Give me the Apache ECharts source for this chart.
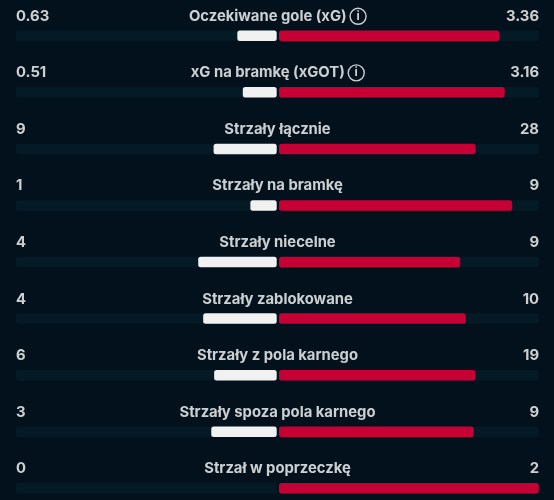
<!DOCTYPE html>
<html><head><meta charset="utf-8">
<style>html,body{margin:0;padding:0;background:#03111c}#c{width:554px;height:500px}</style>
<script src="https://cdn.jsdelivr.net/npm/echarts@6/dist/echarts.min.js"></script>
</head><body><div id="c"></div>
<script>
const categories = ["Oczekiwane gole (xG)","xG na bramkę (xGOT)","Strzały łącznie","Strzały na bramkę","Strzały niecelne","Strzały zablokowane","Strzały z pola karnego","Strzały spoza pola karnego","Strzał w poprzeczkę"];
const homeLabels = ["0.63","0.51","9","1","4","4","6","3","0"];
const awayLabels = ["3.36","3.16","28","9","9","10","19","9","2"];
const withInfo = ["Oczekiwane gole (xG)","xG na bramkę (xGOT)"];
const homeShare = [0.151,0.130,0.242,0.101,0.301,0.282,0.240,0.251,0];
const awayShare = [0.848,0.869,0.757,0.898,0.698,0.719,0.757,0.750,1];

const rowH = 56.56, gridTop = 7.52, gridH = rowH*categories.length;
const textStyle = {color:'#ffffff',fontFamily:'Inter',fontWeight:700,fontSize:14.8};
const hiddenY = i => ({type:'category',gridIndex:i,data:categories,inverse:true,show:false});
const hiddenX = (i,inv) => ({type:'value',gridIndex:i,min:0,max:1,inverse:inv,show:false});
const barBase = {type:'bar',barWidth:10.5,showBackground:true,silent:true,
  backgroundStyle:{color:'#041b25',borderRadius:2}};
const pointLabel = (data,pos,extra) => ({type:'scatter',xAxisIndex:2,yAxisIndex:2,symbolSize:0,silent:true,
  data:data,label:Object.assign({show:true,position:pos,distance:0},textStyle,extra)});
const chart = echarts.init(document.getElementById('c'),null,{renderer:'canvas'});
chart.setOption({
  animation:false,backgroundColor:'#03111c',
  grid:[
    {left:16,width:260.7,top:gridTop,height:gridH,outerBoundsMode:'none'},
    {left:279,width:259.7,top:gridTop,height:gridH,outerBoundsMode:'none'},
    {left:16,width:523,top:gridTop-19.5,height:gridH,outerBoundsMode:'none'}
  ],
  xAxis:[hiddenX(0,true),hiddenX(1,false),hiddenX(2,false)],
  yAxis:[hiddenY(0),hiddenY(1),hiddenY(2)],
  series:[
    Object.assign({},barBase,{xAxisIndex:0,yAxisIndex:0,data:homeShare,itemStyle:{color:'#f1f1f1',borderRadius:2.5}}),
    Object.assign({},barBase,{xAxisIndex:1,yAxisIndex:1,data:awayShare,itemStyle:{color:'#c60035',borderRadius:2.5}}),
    pointLabel(categories.map((c,i)=>({value:[0,c],label:{formatter:homeLabels[i]}})),'right'),
    pointLabel(categories.map((c,i)=>({value:[1,c],label:{formatter:awayLabels[i]}})),'left',{align:'right'}),
    pointLabel(categories.map(c=>({value:[0.5,c],label:{
      formatter: withInfo.includes(c) ? c+' {i|i}' : c}})),'inside',{align:'center',verticalAlign:'middle',
      rich:{i:{color:'#ffffff',fontFamily:'Inter',fontWeight:700,fontSize:12,align:'center',
        width:16,height:16,lineHeight:16,borderColor:'#ffffff',borderWidth:1.4,borderRadius:9}}})
  ]
});
</script></body></html>
